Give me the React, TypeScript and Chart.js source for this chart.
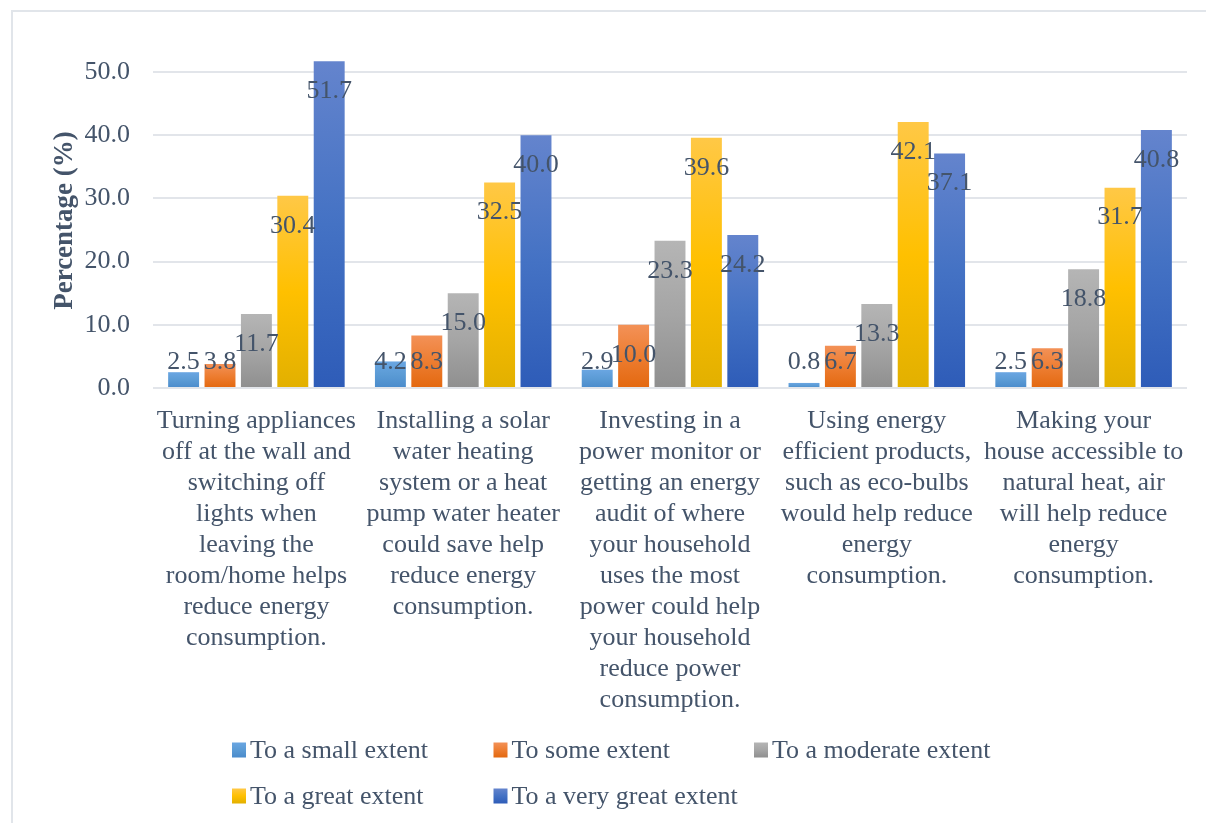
import React, { useEffect, useRef } from "react";
import { Chart, registerables } from "chart.js";

Chart.register(...registerables);

// ---------- DATA ----------
const categories: string[][] = [
  ["Turning appliances", "off at the wall and", "switching off", "lights when", "leaving the", "room/home helps", "reduce energy", "consumption."],
  ["Installing a solar", "water heating", "system or a heat", "pump water heater", "could save help", "reduce energy", "consumption."],
  ["Investing in a", "power monitor or", "getting an energy", "audit of where", "your household", "uses the most", "power could help", "your household", "reduce power", "consumption."],
  ["Using energy", "efficient products,", "such as eco-bulbs", "would help reduce", "energy", "consumption."],
  ["Making your", "house accessible to", "natural heat, air", "will help reduce", "energy", "consumption."],
];

const seriesNames = [
  "To a small extent",
  "To some extent",
  "To a moderate extent",
  "To a great extent",
  "To a very great extent",
];

const smallExtent = [2.5, 4.2, 2.9, 0.8, 2.5];
const someExtent = [3.8, 8.3, 10.0, 6.7, 6.3];
const moderateExtent = [11.7, 15.0, 23.3, 13.3, 18.8];
const greatExtent = [30.4, 32.5, 39.6, 42.1, 31.7];
const veryGreatExtent = [51.7, 40.0, 24.2, 37.1, 40.8];

const yTickValues = [0, 10, 20, 30, 40, 50];
const yAxisTitle = "Percentage (%)";

// ---------- STYLE ----------
const seriesGradients: string[][] = [
  ["#6AA6E2", "#5B9BD5", "#4A8BCB"],
  ["#F39157", "#ED7D31", "#E3680F"],
  ["#B5B5B5", "#A5A5A5", "#8F8F8F"],
  ["#FFC846", "#FFC000", "#E2B000"],
  ["#6484CD", "#4472C4", "#2E5CB8"],
];

const TEXT = "#44546A";
const GRID = "#E2E5EA";
const FONT = "'Liberation Serif', 'Times New Roman', serif";

const makeGradient = (ctx: CanvasRenderingContext2D, top: number, bottom: number, stops: string[]) => {
  const g = ctx.createLinearGradient(0, top, 0, bottom);
  g.addColorStop(0, stops[0]);
  g.addColorStop(0.5, stops[1]);
  g.addColorStop(1, stops[2]);
  return g;
};

const framePlugin = {
  id: "frame",
  beforeDraw(chart: any) {
    const ctx = chart.ctx as CanvasRenderingContext2D;
    ctx.save();
    ctx.fillStyle = "#FFFFFF";
    ctx.fillRect(0, 0, chart.width, chart.height);
    ctx.fillStyle = "#E1E5EA";
    ctx.fillRect(11, 10, 2, chart.height - 10);
    ctx.fillRect(11, 10, chart.width - 11, 2);
    ctx.restore();
  },
};

const dataLabelPlugin = {
  id: "dataLabels",
  afterDatasetsDraw(chart: any) {
    const ctx = chart.ctx as CanvasRenderingContext2D;
    const bottom = chart.chartArea.bottom;
    ctx.save();
    ctx.font = `26px ${FONT}`;
    ctx.fillStyle = TEXT;
    ctx.textAlign = "center";
    ctx.textBaseline = "middle";
    chart.data.datasets.forEach((ds: any, di: number) => {
      const meta = chart.getDatasetMeta(di);
      meta.data.forEach((el: any, i: number) => {
        const v = ds.data[i] as number;
        const y = Math.min(el.y + 30, bottom - 26);
        ctx.fillText(v.toFixed(1), el.x, y);
      });
    });
    ctx.restore();
  },
};

const legendPlugin = {
  id: "gridLegend",
  afterDraw(chart: any) {
    const ctx = chart.ctx as CanvasRenderingContext2D;
    const colX = [232, 493.5, 754];
    const rowY = [750, 796];
    ctx.save();
    ctx.font = `26px ${FONT}`;
    ctx.textBaseline = "middle";
    ctx.textAlign = "left";
    chart.data.datasets.forEach((ds: any, i: number) => {
      const x = colX[i % 3];
      const y = rowY[Math.floor(i / 3)];
      ctx.fillStyle = makeGradient(ctx, y - 7.5, y + 7.5, seriesGradients[i]);
      ctx.fillRect(x, y - 7.5, 14, 15);
      ctx.fillStyle = TEXT;
      ctx.fillText(ds.label, x + 18, y + 1);
    });
    ctx.restore();
  },
};

const seriesValues = [smallExtent, someExtent, moderateExtent, greatExtent, veryGreatExtent];

export default function App() {
  const canvasRef = useRef<HTMLCanvasElement | null>(null);

  useEffect(() => {
    if (!canvasRef.current) return;
    Chart.defaults.font.family = FONT;

    const datasets = seriesValues.map((values, si) => ({
      label: seriesNames[si],
      data: values,
      categoryPercentage: 0.88,
      barPercentage: 0.85,
      backgroundColor: (c: any) => {
        const chart = c.chart;
        const stops = seriesGradients[si];
        if (c.type !== "data" || !chart.chartArea || !chart.scales.y) return stops[1];
        const ys = chart.scales.y;
        const top = ys.getPixelForValue(c.raw as number);
        const bot = ys.getPixelForValue(0);
        if (!isFinite(top) || !isFinite(bot) || top === bot) return stops[1];
        return makeGradient(chart.ctx, top, bot, stops);
      },
      borderWidth: 0,
    }));

    const chart = new Chart(canvasRef.current, {
      type: "bar",
      data: { labels: categories as any, datasets },
      options: {
        animation: false,
        responsive: false,
        devicePixelRatio: 1,
        layout: { padding: { left: 0, right: 19, top: 53, bottom: 0 } },
        plugins: {
          legend: { display: false },
          tooltip: { enabled: false },
        },
        scales: {
          x: {
            grid: { display: false, drawTicks: false },
            border: { display: false },
            ticks: {
              autoSkip: false,
              maxRotation: 0,
              minRotation: 0,
              padding: 18,
              color: TEXT,
              font: { size: 26, family: FONT, lineHeight: 1.19 },
            },
            afterFit: (s: any) => {
              s.height = 823 - 388;
            },
          },
          y: {
            min: 0,
            max: 53,
            grid: { color: GRID, lineWidth: 2, drawTicks: false },
            border: { display: false },
            ticks: {
              stepSize: 10,
              padding: 23,
              color: TEXT,
              font: { size: 26, family: FONT },
              callback: (v: any) => Number(v).toFixed(1),
            },
            afterBuildTicks: (s: any) => {
              s.ticks = yTickValues.map((v) => ({ value: v }));
            },
            afterFit: (s: any) => {
              s.width = 153;
            },
            title: {
              display: true,
              text: yAxisTitle,
              color: TEXT,
              font: { size: 27, weight: "bold", family: FONT, lineHeight: 1.2 },
              padding: { top: 49, bottom: 0 },
            },
          },
        },
      },
      plugins: [framePlugin, dataLabelPlugin, legendPlugin],
    });

    return () => chart.destroy();
  }, []);

  return (
    <div style={{ position: "fixed", left: 0, top: 0, width: 1206, height: 823, overflow: "hidden", background: "#fff" }}>
      <canvas ref={canvasRef} width={1206} height={823} style={{ display: "block", width: 1206, height: 823 }} />
    </div>
  );
}
